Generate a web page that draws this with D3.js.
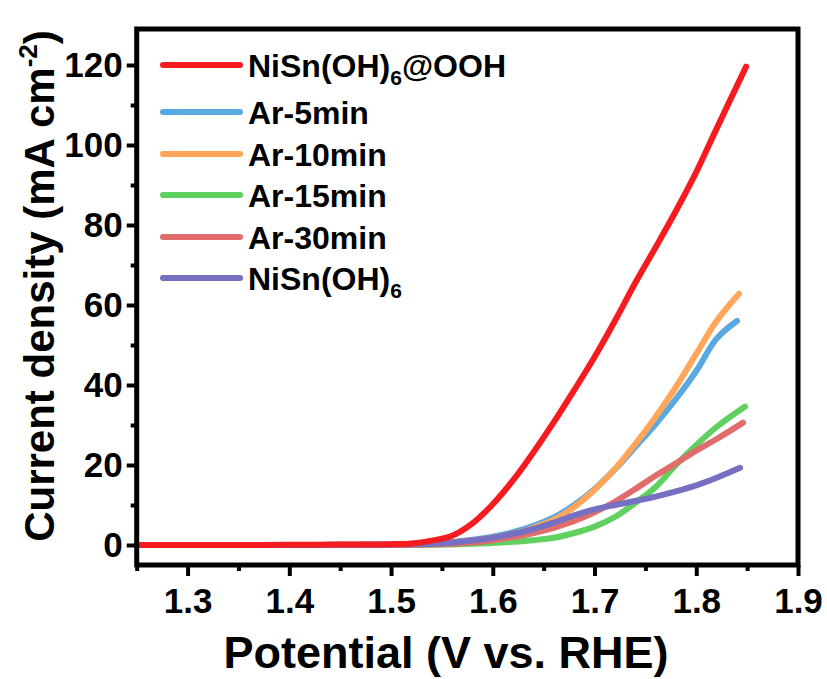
<!DOCTYPE html>
<html><head><meta charset="utf-8">
<script src="https://cdn.jsdelivr.net/npm/d3@7/dist/d3.min.js"></script>
<style>
body{margin:0;background:#fff}
svg{display:block}
text{font-family:"Liberation Sans",Arial,sans-serif;font-weight:bold;fill:#000}
</style>
</head><body><svg id="c" width="827" height="679"></svg>
<script>
// ---- data ----
const potential = [1.25,1.30,1.35,1.40,1.45,1.50,1.52,1.54,1.56,1.58,1.60,1.62,1.64,1.66,1.68,1.70,1.72,1.74,1.76,1.78,1.80,1.82];
const seriesNames = ["NiSn(OH)6@OOH","Ar-5min","Ar-10min","Ar-15min","Ar-30min","NiSn(OH)6"];
const seriesColors = ["#f51b1e","#58a9e0","#ffa65a","#60d060","#e06c6c","#7570c1"];
const ooh    = [0,0,0,0.05,0.1,0.2,0.4,1.1,2.3,5.4,10.2,16.2,23.2,30.7,38.7,47.0,56.0,65.5,74.4,83.5,93.2,104.1];
const ar5    = [0,0,0,0,0.05,0.1,0.15,0.3,0.7,1.3,2.1,3.2,4.8,6.9,10.0,14.0,18.9,24.5,30.2,36.5,43.5,51.6];
const ar10   = [0,0,0,0,0.05,0.1,0.15,0.3,0.6,1.1,1.8,2.8,4.3,6.3,9.5,13.8,19.0,25.2,32.0,39.5,47.8,56.0];
const ar15   = [0,0,0,0,0,0,0,0.05,0.15,0.3,0.5,0.8,1.2,1.8,3.0,4.6,7.0,10.5,14.5,20.0,25.0,29.5];
const ar30   = [0,0,0,0,0,0,0.05,0.15,0.3,0.6,1.2,2.0,3.0,4.3,6.0,8.2,10.8,14.0,17.3,20.4,23.6,26.5];
const pristine = [0,0,0,0,0.05,0.1,0.2,0.3,0.6,1.1,1.8,2.8,4.0,5.6,7.4,8.9,10.0,11.0,12.1,13.4,14.9,16.8];
const endPotential = [1.849,1.840,1.842,1.848,1.846,1.843];
const endCurrent   = [119.6,56.0,62.8,34.6,30.6,19.3];
const xMajor = [1.3,1.4,1.5,1.6,1.7,1.8,1.9];
const xMinor = [1.25,1.35,1.45,1.55,1.65,1.75,1.85];
const yMajor = [0,20,40,60,80,100,120];
const yMinor = [10,30,50,70,90,110];

// ---- layout ----
const svg = d3.select("#c");
const L = 136.7, R = 798, T = 29, B = 565;
const x = d3.scaleLinear().domain([1.25,1.9]).range([L,R]);
const y = d3.scaleLinear().domain([-5,129]).range([B,T]);

const allValues = [ooh, ar5, ar10, ar15, ar30, pristine];
const series = allValues.map((vals,i)=>{
  const pts = potential.map((p,k)=>[p, vals[k]]);
  pts.push([endPotential[i], endCurrent[i]]);
  return {name: seriesNames[i], color: seriesColors[i], pts};
});

const line = d3.line().x(d=>x(d[0])).y(d=>y(d[1])).curve(d3.curveCatmullRom.alpha(0.5));
const drawOrder = [1,2,3,4,5,0];
const g = svg.append("g");
drawOrder.forEach(i=>{
  g.append("path").attr("d", line(series[i].pts))
   .attr("fill","none").attr("stroke", series[i].color)
   .attr("stroke-width",6).attr("stroke-linecap","round").attr("stroke-linejoin","round");
});

// axes
function styleAxis(sel){
  sel.select(".domain").remove();
  sel.selectAll(".tick line").attr("stroke","#000").attr("stroke-width",4);
  sel.selectAll(".tick text").attr("font-size",35).attr("font-weight","bold").attr("fill","#000")
     .attr("font-family",'"Liberation Sans",Arial,sans-serif');
}
const xa = svg.append("g").attr("transform",`translate(0,${B})`)
  .call(d3.axisBottom(x).tickValues(xMajor).tickSize(11).tickPadding(12).tickFormat(d3.format(".1f")));
styleAxis(xa);
const xm = svg.append("g").attr("transform",`translate(0,${B})`)
  .call(d3.axisBottom(x).tickValues(xMinor).tickSize(6).tickFormat(""));
styleAxis(xm);
const ya = svg.append("g").attr("transform",`translate(${L},0)`)
  .call(d3.axisLeft(y).tickValues(yMajor).tickSize(10).tickPadding(4).tickFormat(d3.format("d")));
styleAxis(ya);
const ym = svg.append("g").attr("transform",`translate(${L},0)`)
  .call(d3.axisLeft(y).tickValues(yMinor).tickSize(6).tickFormat(""));
styleAxis(ym);

// frame
svg.append("rect").attr("x",L).attr("y",T).attr("width",R-L).attr("height",B-T)
  .attr("fill","none").attr("stroke","#000").attr("stroke-width",5);

// axis titles
svg.append("text").attr("x",446).attr("y",668).attr("text-anchor","middle")
  .attr("font-size",45).text("Potential (V vs. RHE)");
const yt = svg.append("text").attr("transform","translate(54,286) rotate(-90)")
  .attr("text-anchor","middle").attr("font-size",42);
yt.append("tspan").text("Current density (mA cm");
yt.append("tspan").attr("font-size",26).attr("dy",-17).text("-2");
yt.append("tspan").attr("dy",17).text(")");

// legend
const legY = [65,112,154,195,237,278];
const leg = svg.append("g");
series.forEach((s,i)=>{
  leg.append("line").attr("x1",163).attr("x2",240).attr("y1",legY[i]).attr("y2",legY[i])
    .attr("stroke",s.color).attr("stroke-width",6).attr("stroke-linecap","round");
  const t = leg.append("text").attr("x",248).attr("y",legY[i]+12).attr("font-size",32);
  const m = s.name.match(/^(.*\(OH\))6(.*)$/);
  if(m){
    t.append("tspan").text(m[1]);
    t.append("tspan").attr("font-size",21).attr("dy",8).text("6");
    if(m[2]) t.append("tspan").attr("dy",-8).text(m[2]);
  } else t.text(s.name);
});
</script></body></html>
